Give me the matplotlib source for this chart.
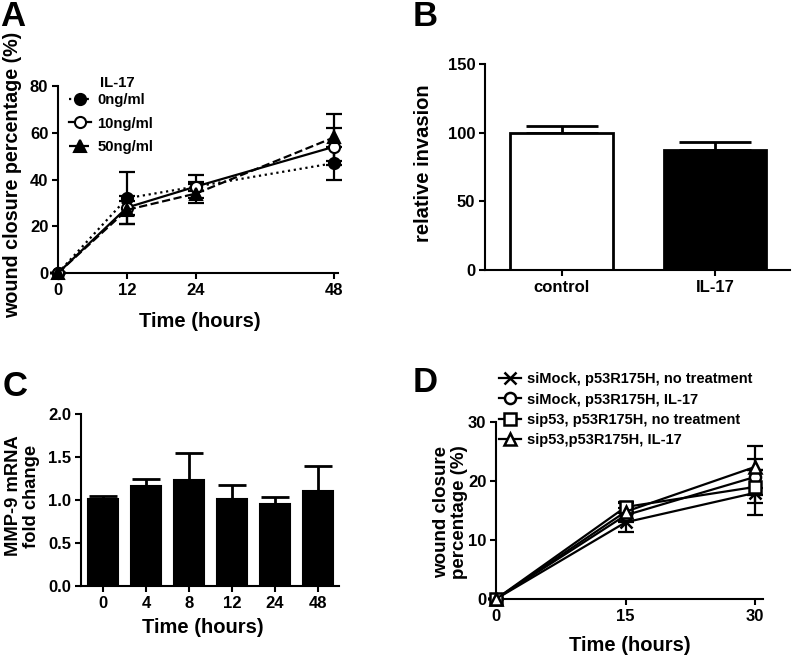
import matplotlib
matplotlib.use("Agg")
import matplotlib.pyplot as plt

plt.rcParams['font.family'] = ['Liberation Sans', 'DejaVu Sans']
plt.rcParams['font.weight'] = 'bold'
plt.rcParams['axes.labelweight'] = 'bold'
plt.rcParams['axes.linewidth'] = 1.5
plt.rcParams['xtick.major.width'] = 1.5
plt.rcParams['ytick.major.width'] = 1.5
plt.rcParams['xtick.major.size'] = 4
plt.rcParams['ytick.major.size'] = 4
plt.rcParams['xtick.labelsize'] = 12
plt.rcParams['ytick.labelsize'] = 12

# panel A: wound closure with IL-17 doses
a_hours = [0, 12, 24, 48]
a_labels = ["0ng/ml", "10ng/ml", "50ng/ml"]
a_means = [[0, 32, 37, 47], [0, 28, 37, 54], [0, 27, 34, 58]]
a_errs = [[0, 11, 5, 7], [0, 3, 2, 8], [0, 6, 4, 10]]

# panel B: invasion
b_groups = ["control", "IL-17"]
b_means = [100, 87.5]
b_errs = [5, 5.5]

# panel C: MMP-9 mRNA
c_hours = ["0", "4", "8", "12", "24", "48"]
c_means = [1.01, 1.16, 1.23, 1.01, 0.95, 1.10]
c_errs = [0.04, 0.09, 0.32, 0.16, 0.09, 0.29]

# panel D: wound closure after p53 knockdown
d_hours = [0, 15, 30]
d_labels = ["siMock, p53R175H, no treatment", "siMock, p53R175H, IL-17",
            "sip53, p53R175H, no treatment", "sip53,p53R175H, IL-17"]
d_means = [[0, 13.0, 18.0], [0, 14.2, 20.7], [0, 15.6, 19.0], [0, 14.8, 22.4]]
d_errs = [[0, 1.6, 3.8], [0, 1.2, 3.1], [0, 0.8, 2.8], [0, 1.5, 3.6]]

fig = plt.figure(figsize=(7.93, 6.56), dpi=100)
W, H = 793.0, 656.0


def axes_px(left, right, bottom, top):
    return fig.add_axes([left / W, 1 - bottom / H, (right - left) / W, (bottom - top) / H])


def clean(ax):
    ax.spines['top'].set_visible(False)
    ax.spines['right'].set_visible(False)
    ax.tick_params(direction='out', pad=3)


def place_labels(ax, xpos, ypos):
    # label coords given as text centres
    ax.xaxis.label.set_va('center')
    ax.yaxis.label.set_va('center')
    ax.xaxis.set_label_coords(*xpos)
    ax.yaxis.set_label_coords(*ypos)


# ---- A ----
axA = axes_px(58, 338, 273, 86)
a_styles = [':', '-', '--']
a_markers = ['o', 'o', '^']
a_faces = ['black', 'white', 'black']
for i in range(3):
    axA.errorbar(a_hours, a_means[i], yerr=a_errs[i], fmt='none', ecolor='black',
                 capsize=6, capthick=1.6, elinewidth=1.6, clip_on=False, zorder=2)
    axA.plot(a_hours, a_means[i], color='black', ls=a_styles[i], lw=1.6,
             marker=a_markers[i], ms=8, mfc=a_faces[i], mec='black', mew=1.5,
             clip_on=False, label=a_labels[i], zorder=3)
axA.set_xlim(0, 48.7)
axA.set_ylim(0, 80)
axA.set_xticks(a_hours)
axA.set_yticks([0, 20, 40, 60, 80])
clean(axA)
axA.set_xlabel("Time (hours)", fontsize=14.5)
axA.set_ylabel("wound closure percentage (%)", fontsize=14.2)
place_labels(axA, (0.505, -0.262), (-0.164, 0.525))
axA.legend(loc='upper left', bbox_to_anchor=(0.04, 0.96), frameon=False, fontsize=10.7,
           handlelength=1.5, handletextpad=0.4, labelspacing=0.62, borderpad=0, borderaxespad=0)
axA.text(0.15, 1.015, "IL-17", transform=axA.transAxes, fontsize=10.7, va='center', ha='left')
fig.text(0.0, 1.0, "A", fontsize=25, va='top', ha='left')

# ---- B ----
axB = axes_px(485, 790, 270, 64)
xb = list(range(len(b_groups)))
axB.bar(xb, b_means, width=0.67, color=['white', 'black'], edgecolor='black', linewidth=2, zorder=2)
axB.errorbar(xb, b_means, yerr=[[0, 0], b_errs], fmt='none', ecolor='black', elinewidth=2,
             capsize=26, capthick=2, zorder=1)
axB.set_xlim(-0.5, 1.49)
axB.set_ylim(0, 150)
axB.set_xticks(xb)
axB.set_xticklabels(b_groups)
axB.set_yticks([0, 50, 100, 150])
clean(axB)
axB.set_ylabel("relative invasion", fontsize=14.5)
place_labels(axB, (0.5, -0.2), (-0.203, 0.52))
fig.text(413 / W, 1.0, "B", fontsize=25, va='top', ha='left')

# ---- C ----
axC = axes_px(81, 339, 586, 414)
xc = list(range(len(c_hours)))
axC.bar(xc, c_means, width=0.7, color='black', edgecolor='black', linewidth=1.5, zorder=2)
axC.errorbar(xc, c_means, yerr=[[0] * len(c_errs), c_errs], fmt='none', ecolor='black',
             elinewidth=2, capsize=10, capthick=2, zorder=1)
axC.set_xlim(-0.51, 5.49)
axC.set_ylim(0, 2.0)
axC.set_xticks(xc)
axC.set_xticklabels(c_hours)
axC.set_yticks([0.0, 0.5, 1.0, 1.5, 2.0])
axC.set_yticklabels(["0.0", "0.5", "1.0", "1.5", "2.0"])
clean(axC)
axC.set_xlabel("Time (hours)", fontsize=14.5)
axC.set_ylabel("MMP-9 mRNA\nfold change", fontsize=13.2, linespacing=1.05)
place_labels(axC, (0.473, -0.244), (-0.228, 0.523))
fig.text(3 / W, 1 - 370 / H, "C", fontsize=25, va='top', ha='left')

# ---- D ----
axD = axes_px(496, 763, 599, 422)
d_markers = ['x', 'o', 's', '^']
d_faces = ['black', 'white', 'white', 'white']
for i in range(4):
    axD.errorbar(d_hours, d_means[i], yerr=d_errs[i], fmt='none', ecolor='black',
                 capsize=6, capthick=1.6, elinewidth=1.6, clip_on=False, zorder=2)
    axD.plot(d_hours, d_means[i], color='black', ls='-', lw=1.6,
             marker=d_markers[i], ms=8, mfc=d_faces[i], mec='black', mew=1.8,
             clip_on=False, label=d_labels[i], zorder=3)
axD.set_xlim(0, 30.9)
axD.set_ylim(0, 30)
axD.set_xticks(d_hours)
axD.set_yticks([0, 10, 20, 30])
clean(axD)
axD.set_xlabel("Time (hours)", fontsize=14.5)
axD.set_ylabel("wound closure\npercentage (%)", fontsize=13.5, linespacing=1.05)
place_labels(axD, (0.50, -0.26), (-0.17, 0.49))
axD.legend(loc='upper left', bbox_to_anchor=(0.012, 1.28), frameon=False, fontsize=10.5,
           handlelength=1.5, handletextpad=0.4, labelspacing=0.42, borderpad=0, borderaxespad=0)
fig.text(413 / W, 1 - 366 / H, "D", fontsize=25, va='top', ha='left')

fig.savefig("out.png", dpi=100)
